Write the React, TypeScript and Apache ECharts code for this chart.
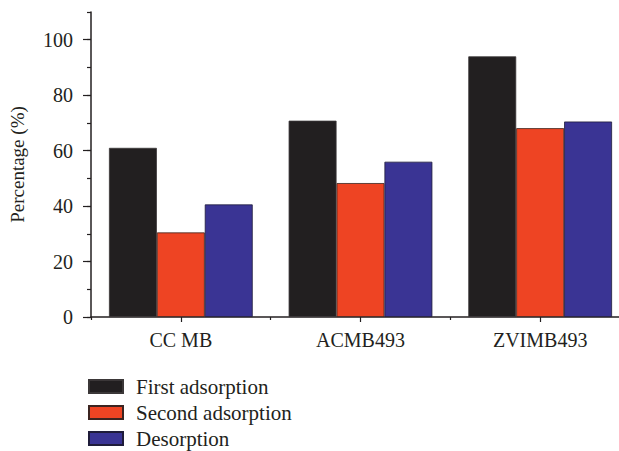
import React, { useEffect, useRef } from "react";
import * as echarts from "echarts";

const categories = ["CC MB", "ACMB493", "ZVIMB493"];
const firstAdsorption = [61.0, 70.8, 94.0];
const secondAdsorption = [30.5, 48.3, 68.1];
const desorption = [40.6, 56.0, 70.5];
const yMajorTicks = [0, 20, 40, 60, 80, 100];

const FONT = "Liberation Serif";
const INK = "#231f20";

export default function App() {
  const ref = useRef<HTMLDivElement>(null);
  useEffect(() => {
    if (!ref.current) return;
    const chart = echarts.init(ref.current, undefined, { renderer: "svg" });
    const barBase = { type: "bar", barGap: "0%", barCategoryGap: "20%", xAxisIndex: 0, yAxisIndex: 0 };
    chart.setOption({
      animation: false,
      textStyle: { fontFamily: FONT, color: INK },
      grid: { left: 90, top: 12, bottom: 134, right: 10, containLabel: false },
      legend: {
        orient: "vertical",
        left: 88,
        top: 376,
        padding: 0,
        itemWidth: 34,
        itemHeight: 13,
        itemGap: 5,
        icon: "rect",
        textStyle: { fontFamily: FONT, fontSize: 21, color: INK, padding: [0, 0, 0, 8] },
        data: ["First adsorption", "Second adsorption", "Desorption"],
      },
      xAxis: [
        {
          type: "category",
          data: categories,
          axisLine: { lineStyle: { color: INK, width: 1.5 } },
          axisTick: { show: true, length: 3, lineStyle: { color: INK, width: 1.2 } },
          axisLabel: { fontFamily: FONT, fontSize: 20, color: INK, margin: 13 },
        },
        {
          type: "category",
          data: categories,
          position: "bottom",
          axisLine: { show: false },
          axisTick: { show: true, alignWithLabel: true, length: 5, lineStyle: { color: INK, width: 1.2 } },
          axisLabel: { show: false },
        },
      ],
      yAxis: [
        {
          type: "value",
          min: 0,
          max: 110,
          interval: 10,
          name: "Percentage (%)",
          nameLocation: "middle",
          nameGap: 64,
          nameTextStyle: { fontFamily: FONT, fontSize: 19, color: INK },
          axisLine: { show: true, lineStyle: { color: INK, width: 1.5 } },
          axisTick: { show: true, length: 4, lineStyle: { color: INK, width: 1.2 } },
          axisLabel: { show: false },
          splitLine: { show: false },
        },
        {
          type: "value",
          min: 0,
          max: 110,
          position: "left",
          axisLine: { show: false },
          axisTick: { show: true, length: 8, customValues: yMajorTicks, lineStyle: { color: INK, width: 1.2 } },
          axisLabel: { show: true, customValues: yMajorTicks, fontFamily: FONT, fontSize: 20, color: INK, margin: 18 },
          splitLine: { show: false },
        },
      ],
      series: [
        {
          ...barBase,
          name: "First adsorption",
          data: firstAdsorption,
          itemStyle: { color: "#221f20", borderColor: "#3b3738", borderWidth: 0.8 },
        },
        {
          ...barBase,
          name: "Second adsorption",
          data: secondAdsorption,
          itemStyle: { color: "#ee4423", borderColor: "#3b2420", borderWidth: 0.8 },
        },
        {
          ...barBase,
          name: "Desorption",
          data: desorption,
          itemStyle: { color: "#3a3494", borderColor: "#1f1c3a", borderWidth: 0.8 },
        },
      ],
    });
    return () => chart.dispose();
  }, []);
  return (
    <div style={{ position: "absolute", left: 0, top: 0, width: 619, height: 451, overflow: "hidden", background: "#fff" }}>
      <div ref={ref} style={{ width: 640, height: 451 }} />
    </div>
  );
}
